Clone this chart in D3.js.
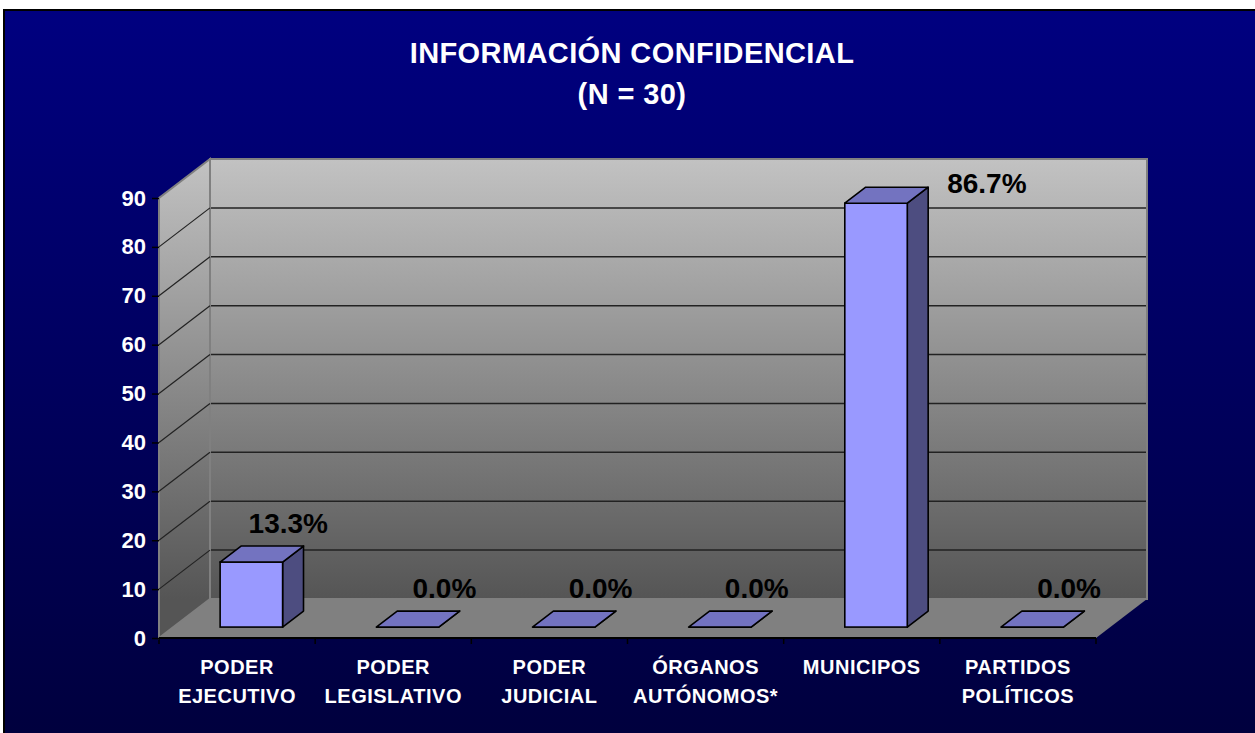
<!DOCTYPE html>
<html>
<head>
<meta charset="utf-8">
<script src="https://cdn.jsdelivr.net/npm/d3@7"></script>
<style>
  body { margin: 0; background: #fff; }
  text { font-family: Arial, "Liberation Sans", sans-serif; font-weight: bold; }
</style>
</head>
<body>
<svg id="chart"></svg>
<script>
// data
const categories = [
  ['PODER', 'EJECUTIVO'],
  ['PODER', 'LEGISLATIVO'],
  ['PODER', 'JUDICIAL'],
  ['ÓRGANOS', 'AUTÓNOMOS*'],
  ['MUNICIPOS'],
  ['PARTIDOS', 'POLÍTICOS']
];
const values = [13.3, 0.0, 0.0, 0.0, 86.7, 0.0];
const yTicks = [0, 10, 20, 30, 40, 50, 60, 70, 80, 90];
const titleLines = ['INFORMACIÓN CONFIDENCIAL', '(N = 30)'];

const width = 1255, height = 733;
const margin = { top: 198, right: 159, bottom: 95, left: 159 };
// 3D depth offset of the walls
const depth = { dx: 51, dy: -39 };
// bar sits between these depth fractions
const zFront = 0.28, zBack = 0.69;

const svg = d3.select('#chart')
  .attr('width', width)
  .attr('height', height);

const defs = svg.append('defs');

const bg = defs.append('linearGradient')
  .attr('id', 'bg-grad')
  .attr('x1', 0).attr('x2', 0).attr('y1', 0).attr('y2', 1);
bg.append('stop').attr('offset', '0%').attr('stop-color', '#000080');
bg.append('stop').attr('offset', '100%').attr('stop-color', '#00003c');

const xScale = d3.scaleBand()
  .domain(d3.range(categories.length))
  .range([margin.left, width - margin.right])
  .paddingInner(0)
  .paddingOuter(0);

const yScale = d3.scaleLinear()
  .domain([0, 90])
  .range([height - margin.bottom, margin.top]);

const wallGrad = defs.append('linearGradient')
  .attr('id', 'wall-grad')
  .attr('gradientUnits', 'userSpaceOnUse')
  .attr('x1', 0).attr('x2', 0)
  .attr('y1', yScale(90) + depth.dy).attr('y2', yScale(0) + depth.dy);
wallGrad.append('stop').attr('offset', '0%').attr('stop-color', '#c2c2c2');
wallGrad.append('stop').attr('offset', '100%').attr('stop-color', '#555555');

// background slide
svg.append('rect')
  .attr('x', 4).attr('y', 10)
  .attr('width', width + 10).attr('height', height + 10)
  .attr('fill', 'url(#bg-grad)')
  .attr('stroke', '#000')
  .attr('stroke-width', 2);

// title
svg.selectAll('.title')
  .data(titleLines)
  .enter()
  .append('text')
  .attr('class', 'title')
  .attr('x', 632)
  .attr('y', (d, i) => 63 + i * 41)
  .attr('text-anchor', 'middle')
  .attr('fill', '#fff')
  .style('font-size', '29px')
  .style('letter-spacing', '0.4px')
  .text(d => d);

const x0 = xScale.range()[0], x1 = xScale.range()[1];
const yb = yScale(0), yt = yScale(90);
const pt = (x, y) => `${x},${y}`;

// floor
svg.append('polygon')
  .attr('points', [pt(x0, yb), pt(x1, yb), pt(x1 + depth.dx, yb + depth.dy), pt(x0 + depth.dx, yb + depth.dy)].join(' '))
  .attr('fill', '#808080');

// left wall
svg.append('polygon')
  .attr('points', [pt(x0, yb), pt(x0, yt), pt(x0 + depth.dx, yt + depth.dy), pt(x0 + depth.dx, yb + depth.dy)].join(' '))
  .attr('fill', 'url(#wall-grad)')
  .attr('stroke', '#808080')
  .attr('stroke-width', 2);

// back wall
svg.append('rect')
  .attr('x', x0 + depth.dx)
  .attr('y', yt + depth.dy)
  .attr('width', x1 - x0)
  .attr('height', yb - yt)
  .attr('fill', 'url(#wall-grad)')
  .attr('stroke', '#808080')
  .attr('stroke-width', 2);

// gridlines
const grid = svg.append('g').attr('class', 'grid');
grid.selectAll('.grid-back')
  .data(yTicks.filter(d => d > 0 && d < 90))
  .enter()
  .append('line')
  .attr('x1', x0 + depth.dx + 1)
  .attr('x2', x1 + depth.dx - 1)
  .attr('y1', d => yScale(d) + depth.dy)
  .attr('y2', d => yScale(d) + depth.dy)
  .attr('stroke', '#222')
  .attr('stroke-width', 1.5);
grid.selectAll('.grid-side')
  .data(yTicks.filter(d => d > 0 && d < 90))
  .enter()
  .append('line')
  .attr('x1', x0)
  .attr('x2', x0 + depth.dx)
  .attr('y1', d => yScale(d))
  .attr('y2', d => yScale(d) + depth.dy)
  .attr('stroke', '#222')
  .attr('stroke-width', 1.2);

// y axis
const yAxis = d3.axisLeft(yScale)
  .tickValues(yTicks)
  .tickSize(7)
  .tickPadding(6);
const yAxisG = svg.append('g')
  .attr('transform', `translate(${x0},0)`)
  .call(yAxis);
yAxisG.select('.domain').remove();
yAxisG.selectAll('line').attr('stroke', '#000').attr('stroke-width', 1.5);
yAxisG.selectAll('text')
  .attr('fill', '#fff')
  .style('font-size', '22px')
  .style('font-family', 'Arial, "Liberation Sans", sans-serif')
  .style('font-weight', 'bold');

// x axis line + ticks between categories
const xAxisG = svg.append('g');
xAxisG.append('line')
  .attr('x1', x0).attr('x2', x1)
  .attr('y1', yb).attr('y2', yb)
  .attr('stroke', '#000').attr('stroke-width', 2);
xAxisG.selectAll('.xtick')
  .data(d3.range(categories.length + 1))
  .enter()
  .append('line')
  .attr('x1', d => x0 + d * xScale.bandwidth())
  .attr('x2', d => x0 + d * xScale.bandwidth())
  .attr('y1', yb).attr('y2', yb + 6)
  .attr('stroke', '#000').attr('stroke-width', 1.5);

// category labels
const catLabels = xAxisG.selectAll('.cat')
  .data(categories)
  .enter()
  .append('text')
  .attr('class', 'cat')
  .attr('text-anchor', 'middle')
  .attr('fill', '#fff')
  .style('font-size', '20px')
  .style('letter-spacing', '0.5px')
  .attr('transform', (d, i) => `translate(${xScale(i) + xScale.bandwidth() / 2},${yb + 36})`);
catLabels.selectAll('tspan')
  .data(d => d)
  .enter()
  .append('tspan')
  .attr('x', 0)
  .attr('y', (d, i) => i * 29)
  .text(d => d);

// bars
const barW = xScale.bandwidth() * 0.4;
const bdx = depth.dx * (zBack - zFront), bdy = depth.dy * (zBack - zFront);
const bars = svg.selectAll('.bar')
  .data(values)
  .enter()
  .append('g')
  .attr('class', 'bar')
  .attr('transform', (d, i) => {
    const left = xScale(i) + (xScale.bandwidth() - barW) / 2 + depth.dx * zFront;
    return `translate(${left},${depth.dy * zFront})`;
  });

const barStroke = { stroke: '#000', width: 1.6 };

// side face
bars.append('polygon')
  .attr('points', d => {
    const top = yScale(d), bot = yScale(0);
    return [pt(barW, bot), pt(barW, top), pt(barW + bdx, top + bdy), pt(barW + bdx, bot + bdy)].join(' ');
  })
  .attr('fill', '#4d4d80')
  .attr('stroke', barStroke.stroke)
  .attr('stroke-width', barStroke.width)
  .attr('stroke-linejoin', 'round');

// front face
bars.append('rect')
  .attr('x', 0)
  .attr('y', d => yScale(d))
  .attr('width', barW)
  .attr('height', d => yScale(0) - yScale(d))
  .attr('fill', '#9999ff')
  .attr('stroke', barStroke.stroke)
  .attr('stroke-width', barStroke.width);

// top face
bars.append('polygon')
  .attr('points', d => {
    const top = yScale(d);
    return [pt(0, top), pt(barW, top), pt(barW + bdx, top + bdy), pt(bdx, top + bdy)].join(' ');
  })
  .attr('fill', '#7373c0')
  .attr('stroke', barStroke.stroke)
  .attr('stroke-width', barStroke.width)
  .attr('stroke-linejoin', 'round');

// value labels
const fmt = d => d3.format('.1f')(d) + '%';
bars.append('text')
  .attr('fill', '#000')
  .style('font-size', '28px')
  .each(function (d) {
    const backTop = yScale(d) + bdy;
    const t = d3.select(this).text(fmt(d));
    if (backTop - 34 < yScale(90) + depth.dy + 10) {
      // no room above: put it beside the bar
      t.attr('text-anchor', 'start')
        .attr('x', barW + bdx + 19)
        .attr('y', backTop + 6);
    } else {
      t.attr('text-anchor', 'middle')
        .attr('x', barW / 2 + bdx + 16)
        .attr('y', backTop - 13);
    }
  });
</script>
</body>
</html>
